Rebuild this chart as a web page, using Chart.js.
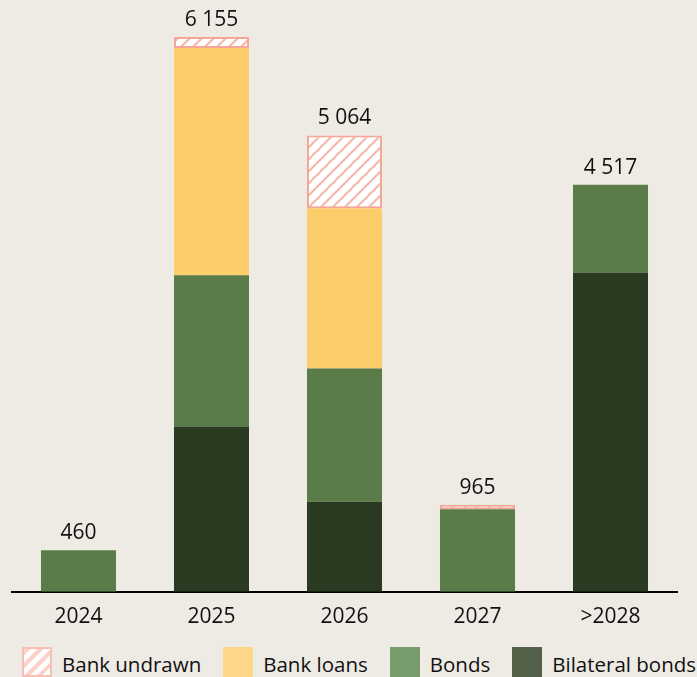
<!DOCTYPE html>
<html>
<head>
    <title>Debt maturity profile</title>
    <script src="https://cdn.jsdelivr.net/npm/chart.js@4.4.1/dist/chart.umd.min.js"></script>
    <style>
        body {
            margin: 0;
            background: #eeebe5;
            overflow: hidden;
            font-family: 'Open Sans', sans-serif;
        }
        .chart-box {
            position: relative;
            width: 697px;
            height: 643px;
        }
        .legend {
            position: absolute;
            top: 647px;
            left: 22px;
            display: flex;
            gap: 22px;
            font-size: 20.5px;
            color: #111;
            white-space: nowrap;
        }
        .legend .item {
            display: flex;
            align-items: flex-start;
            gap: 10px;
        }
        .legend .swatch {
            width: 30px;
            height: 30px;
            box-sizing: border-box;
        }
        .legend .label {
            line-height: 30px;
            padding-top: 2px;
        }
        .swatch.undrawn {
            border: 2px solid #f8c0b4;
            background: repeating-linear-gradient(-45deg, #ffffff 0 5px, #fbd2ca 5px 9px);
        }
    </style>
</head>
<body>
    <div class="chart-box">
        <canvas id="maturityChart"></canvas>
    </div>
    <div class="legend">
        <div class="item"><div class="swatch undrawn"></div><span class="label">Bank undrawn</span></div>
        <div class="item"><div class="swatch" style="background:#fed68a"></div><span class="label">Bank loans</span></div>
        <div class="item"><div class="swatch" style="background:#789b6c"></div><span class="label">Bonds</span></div>
        <div class="item"><div class="swatch" style="background:#546249"></div><span class="label">Bilateral bonds</span></div>
    </div>

    <script>
        const years = ['2024', '2025', '2026', '2027', '>2028'];
        const bilateralBonds = [0, 1833, 1000, 0, 3544];
        const bonds = [460, 1678, 1478, 915, 973];
        const bankLoans = [0, 2522, 1777, 0, 0];
        const bankUndrawn = [0, 122, 809, 50, 0];

        const totals = years.map((_, i) => bilateralBonds[i] + bonds[i] + bankLoans[i] + bankUndrawn[i]);

        // white tile with pink diagonal stripes for the undrawn facility
        function makeHatch() {
            const size = 12;
            const tile = document.createElement('canvas');
            tile.width = size;
            tile.height = size;
            const c = tile.getContext('2d');
            c.fillStyle = '#ffffff';
            c.fillRect(0, 0, size, size);
            c.strokeStyle = '#f7b4a7';
            c.lineWidth = 2;
            c.beginPath();
            c.moveTo(-2, size + 2);
            c.lineTo(size + 2, -2);
            c.moveTo(-2, 2);
            c.lineTo(2, -2);
            c.moveTo(size - 2, size + 2);
            c.lineTo(size + 2, size - 2);
            c.stroke();
            return c.createPattern(tile, 'repeat');
        }

        const fmt = v => String(v).replace(/\B(?=(\d{3})+(?!\d))/g, ' ');

        // total above each stack
        const totalLabels = {
            id: 'totalLabels',
            afterDatasetsDraw(chart) {
                const ctx = chart.ctx;
                ctx.save();
                ctx.font = '21px "Open Sans"';
                ctx.fillStyle = '#111';
                ctx.textAlign = 'center';
                ctx.textBaseline = 'alphabetic';
                years.forEach((_, i) => {
                    let top = null, x = null;
                    chart.data.datasets.forEach((ds, d) => {
                        if (ds.data[i] > 0) {
                            const el = chart.getDatasetMeta(d).data[i];
                            top = el.y;
                            x = el.x;
                        }
                    });
                    if (top !== null) ctx.fillText(fmt(totals[i]), x, top - 11);
                });
                ctx.restore();
            }
        };

        const barOpts = { categoryPercentage: 1, barPercentage: 0.564, borderSkipped: false };

        new Chart(document.getElementById('maturityChart'), {
            type: 'bar',
            data: {
                labels: years,
                datasets: [
                    { label: 'Bilateral bonds', data: bilateralBonds, backgroundColor: '#2a3a21', borderWidth: 0, ...barOpts },
                    { label: 'Bonds', data: bonds, backgroundColor: '#5a7c49', borderWidth: 0, ...barOpts },
                    { label: 'Bank loans', data: bankLoans, backgroundColor: '#fecd6b', borderWidth: 0, ...barOpts },
                    { label: 'Bank undrawn', data: bankUndrawn, backgroundColor: makeHatch(), borderColor: '#f5a797', borderWidth: 2, ...barOpts }
                ]
            },
            options: {
                responsive: true,
                maintainAspectRatio: false,
                animation: false,
                layout: { padding: { left: 12, right: 20, top: 0, bottom: 0 } },
                plugins: {
                    legend: { display: false },
                    tooltip: { enabled: false }
                },
                scales: {
                    x: {
                        stacked: true,
                        grid: { display: false, drawTicks: false },
                        border: { display: true, color: '#000', width: 2 },
                        ticks: {
                            color: '#111',
                            font: { family: 'Open Sans', size: 21 },
                            padding: 13
                        }
                    },
                    y: {
                        stacked: true,
                        display: false,
                        min: 0,
                        max: 6566
                    }
                }
            },
            plugins: [totalLabels]
        });
    </script>
</body>
</html>
